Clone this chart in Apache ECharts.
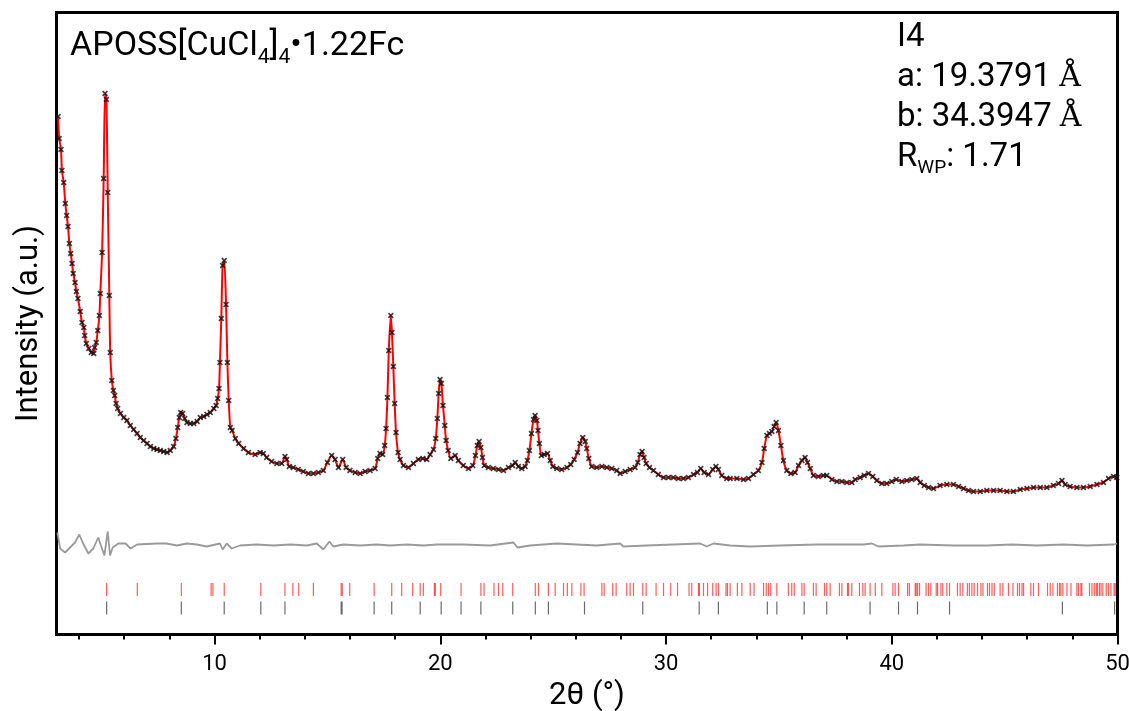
<!DOCTYPE html>
<html>
<head>
<meta charset="utf-8">
<title>APOSS[CuCl4]4·1.22Fc — Rietveld refinement</title>
<script src="https://cdn.jsdelivr.net/npm/echarts@6/dist/echarts.min.js"></script>
<style>
  html, body { margin: 0; padding: 0; background: #fff; }
  #chart { width: 1129px; height: 711px; }
</style>
</head>
<body>
<div id="chart"></div>
<script>
// Observed powder pattern: [2θ (°), intensity (a.u.)]
const observed = [
  [3.07,518],[3.12,496],[3.20,485],[3.24,464],[3.32,452],[3.39,431],[3.45,419],[3.51,408],[3.57,391],[3.63,381],
  [3.69,371],[3.74,361],[3.82,352],[3.88,343],[3.95,336],[4.05,323],[4.13,312],[4.21,307],[4.25,299],[4.32,291],
  [4.43,286],[4.54,282],[4.65,281],[4.69,287],[4.76,292],[4.83,304],[4.90,319],[4.94,341],[5.02,382],[5.09,456],
  [5.15,541],[5.21,535],[5.27,442],[5.34,339],[5.38,282],[5.45,254],[5.52,244],[5.58,239],[5.64,231],[5.71,226],
  [5.83,221],[5.98,217],[6.12,214],[6.27,209],[6.42,205],[6.57,201],[6.71,197],[6.86,194],[7.01,191],[7.16,188],
  [7.31,186],[7.45,185],[7.60,184],[7.75,183],[7.90,182],[8.04,184],[8.19,188],[8.29,196],[8.37,207],[8.44,217],
  [8.50,222],[8.59,221],[8.68,216],[8.78,212],[8.93,211],[9.08,211],[9.23,213],[9.37,217],[9.52,218],[9.67,220],
  [9.81,222],[9.97,226],[10.07,229],[10.14,236],[10.20,246],[10.24,272],[10.30,316],[10.36,369],[10.43,374],[10.51,330],
  [10.57,272],[10.63,234],[10.70,207],[10.78,204],[10.92,196],[11.07,191],[11.29,186],[11.50,182],[11.80,180],[12.02,182],
  [12.16,181],[12.31,177],[12.53,173],[12.76,171],[12.98,171],[13.12,178],[13.20,175],[13.31,168],[13.49,167],[13.71,165],
  [13.93,163],[14.16,161],[14.38,161],[14.60,162],[14.82,164],[15.00,172],[15.19,179],[15.34,175],[15.49,167],[15.68,175],
  [15.83,167],[16.00,164],[16.23,162],[16.45,161],[16.67,163],[16.89,164],[17.11,166],[17.23,176],[17.33,181],[17.45,180],
  [17.54,189],[17.60,206],[17.66,237],[17.72,284],[17.81,319],[17.86,302],[17.92,268],[17.98,231],[18.04,202],[18.13,182],
  [18.22,175],[18.37,169],[18.59,167],[18.81,171],[19.03,175],[19.23,176],[19.40,175],[19.55,180],[19.70,185],[19.80,196],
  [19.87,216],[19.93,241],[19.99,255],[20.05,251],[20.12,229],[20.20,209],[20.26,194],[20.35,184],[20.47,176],[20.66,179],
  [20.80,174],[21.02,169],[21.25,166],[21.44,169],[21.56,179],[21.64,189],[21.72,193],[21.80,187],[21.87,177],[21.95,169],
  [22.13,167],[22.35,166],[22.58,165],[22.80,164],[23.02,167],[23.20,169],[23.32,172],[23.46,168],[23.61,166],[23.76,168],
  [23.86,174],[23.95,184],[24.04,201],[24.13,215],[24.20,219],[24.28,214],[24.33,204],[24.39,191],[24.48,179],[24.60,180],
  [24.75,181],[24.87,174],[24.99,168],[25.16,166],[25.38,165],[25.61,167],[25.78,170],[25.93,175],[26.08,182],[26.19,191],
  [26.31,197],[26.42,193],[26.49,186],[26.58,176],[26.71,168],[26.93,167],[27.16,168],[27.38,167],[27.60,166],[27.82,164],
  [27.97,161],[28.19,163],[28.41,165],[28.63,167],[28.75,172],[28.85,180],[28.94,183],[29.03,177],[29.12,171],[29.27,167],
  [29.44,164],[29.66,160],[29.89,157],[30.11,157],[30.33,157],[30.55,156],[30.77,156],[30.99,157],[31.22,160],[31.39,162],
  [31.54,166],[31.69,162],[31.88,160],[32.07,165],[32.21,168],[32.32,165],[32.47,159],[32.69,156],[32.84,156],[33.14,156],
  [33.43,155],[33.65,156],[33.87,160],[34.09,164],[34.25,172],[34.35,186],[34.47,199],[34.58,201],[34.69,203],[34.79,208],
  [34.88,212],[34.98,204],[35.09,189],[35.20,174],[35.35,164],[35.53,161],[35.72,162],[35.87,169],[36.02,174],[36.16,177],
  [36.27,172],[36.39,166],[36.53,159],[36.75,158],[36.97,159],[37.12,159],[37.35,155],[37.57,153],[37.79,153],[38.01,152],
  [38.23,152],[38.38,155],[38.60,157],[38.78,159],[38.97,161],[39.16,158],[39.34,154],[39.56,151],[39.78,151],[40.00,153],
  [40.20,155],[40.45,153],[40.67,154],[40.89,155],[41.11,156],[41.26,152],[41.44,149],[41.63,147],[41.85,146],[42.14,149],
  [42.44,150],[42.73,150],[42.96,148],[43.18,146],[43.40,144],[43.62,143],[43.92,143],[44.21,144],[44.51,144],[44.80,144],
  [45.10,143],[45.39,143],[45.69,145],[45.99,146],[46.28,147],[46.58,147],[46.87,147],[47.16,149],[47.39,151],[47.54,154],
  [47.68,150],[47.90,148],[48.20,147],[48.49,147],[48.79,148],[49.09,150],[49.38,152],[49.60,156],[49.82,158],[49.97,157]
];

// Difference curve (observed − calculated), shown offset below the pattern
const difference = [
  [3.04,102],[3.16,86],[3.38,82],[3.60,87],[3.82,92],[4.01,100],[4.16,92],[4.41,81],[4.63,86],[4.85,97],
  [5.00,87],[5.12,79],[5.27,103],[5.37,79],[5.49,87],[5.74,91],[6.06,91],[6.28,86],[6.57,90],[7.44,91],
  [7.88,91],[8.33,89],[8.77,91],[9.21,90],[9.65,88],[10.24,91],[10.36,85],[10.54,91],[10.76,86],[11.13,89],
  [11.87,90],[12.61,89],[13.35,90],[14.09,89],[14.53,91],[14.82,85],[15.09,93],[15.26,88],[15.71,90],[16.45,89],
  [17.19,90],[17.78,89],[18.52,90],[19.25,89],[19.85,90],[21.02,90],[22.21,89],[23.24,92],[23.42,87],[23.98,89],
  [25.16,91],[26.05,90],[26.93,89],[27.97,91],[28.11,88],[29.15,89],[30.33,90],[31.51,91],[31.81,88],[32.10,91],
  [32.84,89],[33.73,88],[35.06,89],[36.68,90],[38.75,90],[39.12,91],[39.41,88],[40.52,89],[41.26,90],[42.73,89],
  [44.21,89],[45.32,90],[46.43,89],[47.61,90],[48.65,89],[49.83,90],[49.98,91]
];

// Bragg reflection positions (2θ) for the two phases
const reflectionsA = [
  5.22,6.58,8.53,9.85,9.93,10.43,12.05,13.12,13.47,13.73,14.38,15.61,15.66,15.99,17.07,17.85,18.29,18.78,19.11,19.25,
  19.74,19.78,20.02,20.92,21.80,21.94,22.38,22.58,22.77,23.21,24.21,24.35,24.79,25.09,25.46,25.63,25.83,26.23,26.37,27.16,
  27.26,27.64,27.79,28.26,28.41,28.56,28.97,29.12,29.56,29.89,30.21,30.51,31.02,31.14,31.44,31.48,31.66,31.84,32.07,32.22,
  32.32,32.66,32.72,32.84,33.16,33.36,33.73,33.90,34.32,34.44,34.54,34.64,34.91,35.42,35.57,35.68,36.02,36.12,36.53,36.65,
  37.02,37.12,37.27,37.68,37.79,38.04,38.08,38.23,38.57,38.72,38.82,39.04,39.27,39.56,40.05,40.15,40.30,40.70,40.78,41.04,
  41.08,41.14,41.23,41.52,41.63,41.73,41.97,42.03,42.18,42.26,42.44,42.56,42.91,43.03,43.15,43.35,43.44,43.55,43.65,43.80,
  43.95,44.04,44.24,44.33,44.44,44.54,44.80,44.92,45.17,45.37,45.57,45.66,45.77,45.84,46.16,46.28,46.50,46.90,47.02,47.14,
  47.34,47.43,47.49,47.58,47.76,47.94,48.20,48.27,48.38,48.42,48.76,48.87,48.97,49.06,49.11,49.20,49.27,49.35,49.50,49.60,
  49.71,49.85,49.90
];
const reflectionsB = [
  5.22,8.53,10.43,12.05,13.12,15.61,15.65,17.07,17.85,19.11,20.04,20.92,21.80,23.21,24.21,24.79,26.39,28.97,31.47,32.32,
  34.49,34.91,36.12,37.12,39.04,40.30,41.14,42.56,47.56,49.87
];

// Heights of the two reflection-marker rows
const rowA = 45;
const rowB = 26.5;

// Axis ticks
const majorTicks = [10, 20, 30, 40, 50];
const minorTicks = [4, 6, 8, 12, 14, 16, 18, 22, 24, 26, 28, 32, 34, 36, 38, 42, 44, 46, 48];

const FONT = 'Roboto';
const CROSS = 'path://M0,2L2,0L5,3L8,0L10,2L7,5L10,8L8,10L5,7L2,10L0,8L3,5Z';

const chart = echarts.init(document.getElementById('chart'), null, { renderer: 'canvas' });

chart.setOption({
  animation: false,
  backgroundColor: '#ffffff',
  grid: {
    left: 56.5, right: 11.5, top: 12.5, bottom: 76.5,
    containLabel: false, outerBoundsMode: 'none',
    show: true, borderColor: '#000', borderWidth: 3, backgroundColor: 'transparent'
  },
  xAxis: [
    {
      type: 'value', min: 3, max: 50, position: 'bottom',
      name: '2θ (°)', nameLocation: 'middle', nameGap: 43,
      nameTextStyle: { fontFamily: FONT, fontSize: 31, color: '#000' },
      axisLine: { show: true, lineStyle: { color: '#000', width: 3 } },
      axisTick: { show: true, length: 10, customValues: majorTicks, lineStyle: { color: '#000', width: 2 } },
      axisLabel: { show: true, customValues: majorTicks, margin: 19, fontFamily: FONT, fontSize: 22, color: '#000' },
      splitLine: { show: false }
    },
    {
      type: 'value', min: 3, max: 50, position: 'bottom',
      axisLine: { show: false },
      axisTick: { show: true, length: 5, customValues: minorTicks, lineStyle: { color: '#000', width: 2 } },
      axisLabel: { show: false },
      splitLine: { show: false }
    }
  ],
  yAxis: {
    type: 'value', min: 0, max: 622,
    name: 'Intensity (a.u.)', nameLocation: 'middle', nameGap: 12, nameRotate: 90,
    nameTextStyle: { fontFamily: FONT, fontSize: 31, color: '#000' },
    axisLine: { show: true, lineStyle: { color: '#000', width: 3 } },
    axisTick: { show: false },
    axisLabel: { show: false },
    splitLine: { show: false }
  },
  series: [
    {
      name: 'difference', type: 'line', data: difference, symbol: 'none', smooth: false,
      lineStyle: { color: '#9a9a9a', width: 1.8 }, z: 2
    },
    {
      name: 'calculated', type: 'line', data: observed, symbol: 'none', smooth: 0.25,
      lineStyle: { color: '#ff0000', width: 2 }, z: 3
    },
    {
      name: 'observed', type: 'scatter', data: observed, symbol: CROSS, symbolSize: 6,
      itemStyle: { color: '#111' }, z: 4
    },
    {
      name: 'phase I4', type: 'scatter', data: reflectionsA.map(v => [v, rowA]),
      symbol: 'rect', symbolSize: [1.2, 13], itemStyle: { color: 'rgba(255,0,0,0.8)' }, z: 2
    },
    {
      name: 'phase 2', type: 'scatter', data: reflectionsB.map(v => [v, rowB]),
      symbol: 'rect', symbolSize: [1.2, 13], itemStyle: { color: 'rgba(40,40,40,0.85)' }, z: 2
    }
  ],
  graphic: [
    {
      type: 'text', x: 70, y: 24, z: 10,
      style: {
        text: 'APOSS[CuCl{sub|4}]{sub|4}•1.22Fc',
        fontFamily: FONT, fontSize: 34, lineHeight: 44, fill: '#000',
        align: 'left', verticalAlign: 'top',
        rich: {
          sub: { fontFamily: FONT, fontSize: 21, lineHeight: 30, verticalAlign: 'bottom', fill: '#000' }
        }
      }
    },
    {
      type: 'text', x: 897, y: 18, z: 10,
      style: {
        text: 'I4\na: 19.3791 {s|Å}\nb: 34.3947 {s|Å}\nR{sub|WP}: 1.71',
        fontFamily: FONT, fontSize: 33, lineHeight: 40, fill: '#000',
        align: 'left', verticalAlign: 'top',
        rich: {
          s: { fontFamily: 'DejaVu Serif', fontSize: 30, lineHeight: 40, fill: '#000' },
          sub: { fontFamily: FONT, fontSize: 19, lineHeight: 31, verticalAlign: 'bottom', fill: '#000' }
        }
      }
    }
  ]
});
</script>
</body>
</html>
